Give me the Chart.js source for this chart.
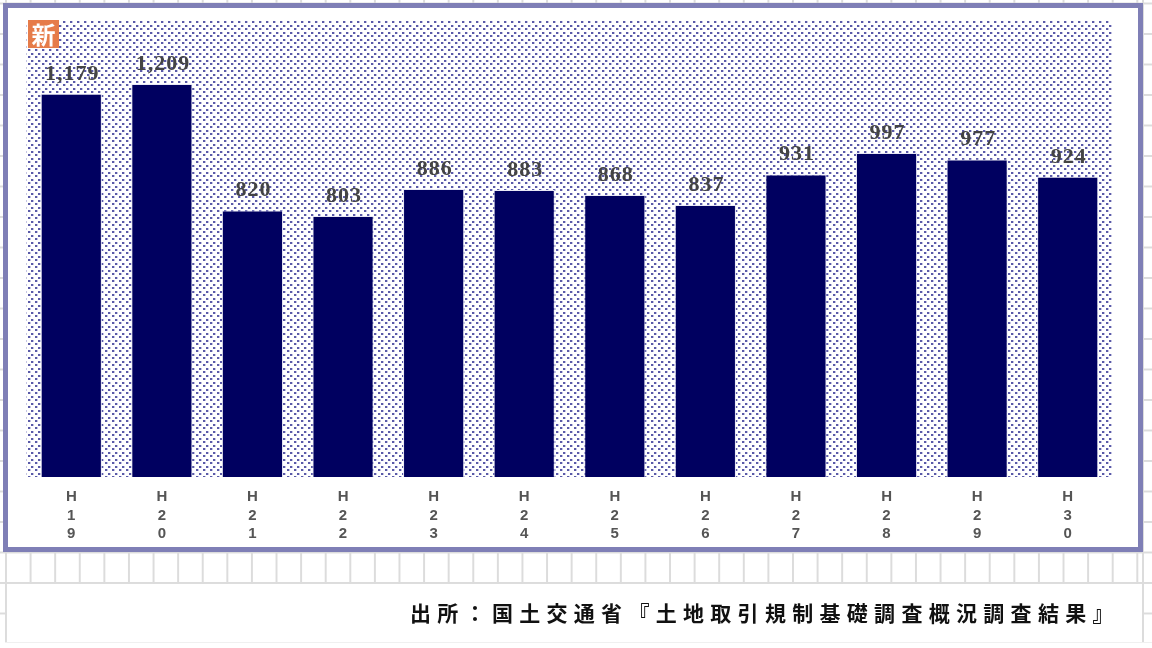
<!DOCTYPE html>
<html>
<head>
<meta charset="utf-8">
<script src="https://cdn.jsdelivr.net/npm/chart.js@4"></script>
<style>
  html, body { margin: 0; padding: 0; background: #fff; }
  body { width: 1152px; height: 648px; overflow: hidden; position: relative; }
  /* spreadsheet grid behind the pasted chart */
  #sheet {
    position: absolute; left: 5px; top: 0; width: 1147px; height: 642px;
    background-image:
      linear-gradient(to right, #dcdcdc 2px, transparent 2px),
      linear-gradient(to bottom, #dcdcdc 2px, transparent 2px);
    background-size: 24.6px 100%, 100% 30.5px;
    background-position: 0 0, 0 2.5px;
    border-bottom: 1px solid #f0f0f0;
  }
  #sideLeft { position: absolute; left: 0; top: 0; width: 5px; height: 642px;
    background-image: linear-gradient(to bottom, #dcdcdc 2px, transparent 2px);
    background-size: 100% 30.5px; background-position: 0 2.5px; }
  #cell {
    position: absolute; left: 7px; top: 584px; width: 1135px; height: 58px; background: #fff;
  }
  #rightEdge { position: absolute; left: 1142px; top: 0; width: 2px; height: 642px; background: #dcdcdc; }
  #frame {
    position: absolute; left: 3px; top: 3px; width: 1130px; height: 539px;
    background: #fff; border: 5px solid #7f7fb6;
  }
  #wrap { position: absolute; left: 0; top: 0; width: 1152px; height: 648px; }
  #badge {
    position: absolute; left: 28px; top: 20px; width: 31px; height: 28px;
    background: #e67c4a; color: #fff; font: bold 24px/28px "Noto Sans CJK JP";
    text-align: center;
  }
  #source {
    position: absolute; left: 410px; top: 598px; color: #111;
    font: bold 21px/28px "Noto Sans CJK JP"; letter-spacing: 6.3px; white-space: nowrap;
  }
</style>
</head>
<body>
<div id="sheet"></div>
<div id="sideLeft"></div>
<div id="rightEdge"></div>
<div id="cell"></div>
<div id="frame"></div>
<div id="wrap"><canvas id="chart" width="1152" height="648"></canvas></div>
<div id="badge">新</div>
<div id="source">出所：国土交通省『土地取引規制基礎調査概況調査結果』</div>
<script>
const categories = [["H","1","9"],["H","2","0"],["H","2","1"],["H","2","2"],["H","2","3"],["H","2","4"],
                    ["H","2","5"],["H","2","6"],["H","2","7"],["H","2","8"],["H","2","9"],["H","3","0"]];
const values = [1179, 1209, 820, 803, 886, 883, 868, 837, 931, 997, 977, 924];

// dotted backdrop, staggered dots with a soft edge like the scanned original
function dotPattern(ctx) {
  const tile = document.createElement("canvas");
  tile.width = 7; tile.height = 7;
  const t = tile.getContext("2d");
  [[0, 0], [3, 4]].forEach(([x, y]) => {
    t.fillStyle = "#c6c6e4";
    t.fillRect(x, y, 3, 2);
    t.fillStyle = "#5a5aa8";
    t.fillRect(x, y, 2, 2);
  });
  return ctx.createPattern(tile, "repeat");
}

const plotBackdrop = {
  id: "plotBackdrop",
  beforeDatasetsDraw(chart) {
    const { ctx, chartArea: a } = chart;
    ctx.save();
    ctx.fillStyle = dotPattern(ctx);
    ctx.fillRect(a.left, a.top, a.right - a.left, a.bottom - a.top);
    ctx.restore();
  }
};

const valueLabels = {
  id: "valueLabels",
  afterDatasetsDraw(chart) {
    const { ctx } = chart;
    const bars = chart.getDatasetMeta(0).data;
    ctx.save();
    ctx.font = "bold 22px 'Liberation Serif'";
    ctx.letterSpacing = "1px";
    ctx.fillStyle = "#444";
    ctx.textAlign = "center";
    ctx.textBaseline = "alphabetic";
    bars.forEach((bar, i) => {
      ctx.fillText(values[i].toLocaleString("en-US"), bar.x + 1, bar.y - 14);
    });
    ctx.restore();
  }
};

new Chart(document.getElementById("chart"), {
  type: "bar",
  data: {
    labels: categories,
    datasets: [{
      data: values,
      backgroundColor: "#000060",
      borderColor: "#e8e8f6",
      borderWidth: 1,
      barPercentage: 1,
      categoryPercentage: 0.675
    }]
  },
  options: {
    responsive: false,
    animation: false,
    layout: { padding: { left: 26, right: 39, top: 21, bottom: 0 } },
    plugins: { legend: { display: false }, tooltip: { enabled: false } },
    scales: {
      x: {
        grid: { display: false },
        border: { display: false },
        afterFit(scale) { scale.height = 171; },
        ticks: {
          color: "#555",
          font: { family: "Liberation Sans", size: 15, weight: "bold", lineHeight: 1.22 },
          maxRotation: 0,
          padding: 3
        }
      },
      y: {
        display: false,
        min: 0,
        max: 1403
      }
    }
  },
  plugins: [plotBackdrop, valueLabels]
});
</script>
</body>
</html>
